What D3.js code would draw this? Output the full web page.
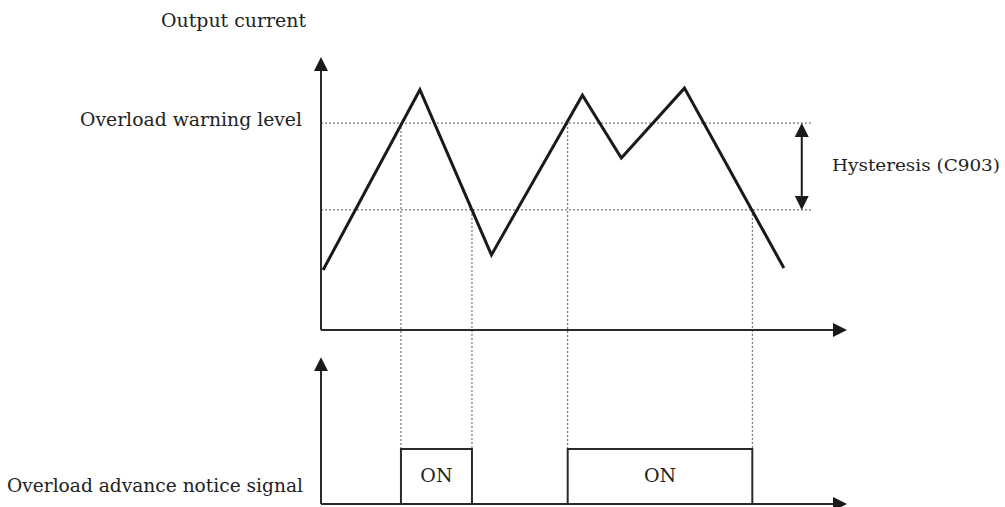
<!DOCTYPE html>
<html>
<head>
<meta charset="utf-8">
<script src="https://cdn.jsdelivr.net/npm/d3@7"></script>
<style>
  body { margin: 0; background: #fff; overflow: hidden; }
  text { font-family: "DejaVu Serif", serif; font-size: 19px; fill: #222; }
</style>
</head>
<body>
<script>
// output current waveform (time, % of rating)
const currentTime = [0.04, 1.88, 3.24, 4.97, 5.71, 6.91, 8.8];
const currentValue = [22, 88, 27.5, 86, 63, 88.6, 22.7];

// thresholds
const warningLevel = 75.8;
const releaseLevel = 44;   // warning level - hysteresis (C903)
const levelEnd = 9.35;     // dotted lines stop here
const hystTime = 9.14;

// ON periods of the advance notice signal
const onStart = [1.52, 4.69];
const onEnd = [2.87, 8.2];
const onLabels = ["ON", "ON"];

const timeMax = 10, currentMax = 100, signalMax = 2.67;

const width = 1005, height = 507;
const svg = d3.select("body").append("svg")
    .attr("width", width)
    .attr("height", height);

const x = d3.scaleLinear().domain([0, timeMax]).range([321, 847]);
const yCur = d3.scaleLinear().domain([0, currentMax]).range([330, 57]);
const ySig = d3.scaleLinear().domain([0, 1]).range([504, 449]);

// arrow head marker
const defs = svg.append("defs");
defs.append("marker")
    .attr("id", "head")
    .attr("viewBox", "0 0 14 14")
    .attr("refX", 8).attr("refY", 7)
    .attr("markerWidth", 14).attr("markerHeight", 14)
    .attr("markerUnits", "userSpaceOnUse")
    .attr("orient", "auto-start-reverse")
    .append("path")
    .attr("d", "M0,0 L14,7 L0,14 Z")
    .attr("fill", "#1a1a1a");

const dotted = g => g.attr("stroke", "#555").attr("stroke-width", 1)
    .attr("stroke-dasharray", "2,2").attr("fill", "none");

// horizontal level lines
svg.append("g").selectAll("line")
    .data([warningLevel, releaseLevel])
    .join("line")
    .attr("x1", x(0)).attr("x2", x(levelEnd))
    .attr("y1", d => yCur(d)).attr("y2", d => yCur(d))
    .call(dotted);

// vertical guides from crossing points down to the signal
const guides = onStart.map(t => ({t, lvl: warningLevel}))
    .concat(onEnd.map(t => ({t, lvl: releaseLevel})));
svg.append("g").selectAll("line")
    .data(guides)
    .join("line")
    .attr("x1", d => x(d.t)).attr("x2", d => x(d.t))
    .attr("y1", d => yCur(d.lvl)).attr("y2", ySig(1))
    .call(dotted);

// axes
const axes = [
    [x(0), yCur(0), x(0), yCur(currentMax)],
    [x(0), yCur(0), x(timeMax), yCur(0)],
    [x(0), ySig(0), x(0), ySig(signalMax)],
    [x(0), ySig(0), x(timeMax), ySig(0)]
];
svg.append("g").selectAll("line")
    .data(axes)
    .join("line")
    .attr("x1", d => d[0]).attr("y1", d => d[1])
    .attr("x2", d => d[2] + (d[2] > d[0] ? -6 : 0))
    .attr("y2", d => d[3] + (d[3] < d[1] ? 6 : 0))
    .attr("stroke", "#2a2a2a")
    .attr("stroke-width", 2)
    .attr("marker-end", "url(#head)");

// current waveform
const line = d3.line().x(d => x(d[0])).y(d => yCur(d[1]));
svg.append("path")
    .datum(d3.zip(currentTime, currentValue))
    .attr("d", line)
    .attr("fill", "none")
    .attr("stroke", "#1a1a1a")
    .attr("stroke-width", 3)
    .attr("stroke-linejoin", "miter");

// hysteresis double arrow
svg.append("line")
    .attr("x1", x(hystTime)).attr("x2", x(hystTime))
    .attr("y1", yCur(warningLevel) + 6).attr("y2", yCur(releaseLevel) - 6)
    .attr("stroke", "#1a1a1a").attr("stroke-width", 2)
    .attr("marker-start", "url(#head)")
    .attr("marker-end", "url(#head)");

// ON boxes
const onData = d3.zip(onStart, onEnd, onLabels);
svg.append("g").selectAll("rect")
    .data(onData)
    .join("rect")
    .attr("x", d => x(d[0]))
    .attr("y", ySig(1))
    .attr("width", d => x(d[1]) - x(d[0]))
    .attr("height", ySig(0) - ySig(1))
    .attr("fill", "none")
    .attr("stroke", "#2a2a2a")
    .attr("stroke-width", 2);

function fitText(sel, w) {
    sel.attr("textLength", w).attr("lengthAdjust", "spacingAndGlyphs");
}

svg.append("g").selectAll("text")
    .data(onData)
    .join("text")
    .attr("x", d => (x(d[0]) + x(d[1])) / 2)
    .attr("y", 482)
    .attr("text-anchor", "middle")
    .text(d => d[2]);

// labels
svg.append("text").attr("x", 161).attr("y", 27).text("Output current").call(fitText, 145);
svg.append("text").attr("x", 80).attr("y", 126).text("Overload warning level").call(fitText, 222);
svg.append("text").attr("x", 832).attr("y", 171).style("font-size", "17px")
    .text("Hysteresis (C903)").call(fitText, 168);
svg.append("text").attr("x", 7).attr("y", 492).text("Overload advance notice signal").call(fitText, 296);
</script>
</body>
</html>
